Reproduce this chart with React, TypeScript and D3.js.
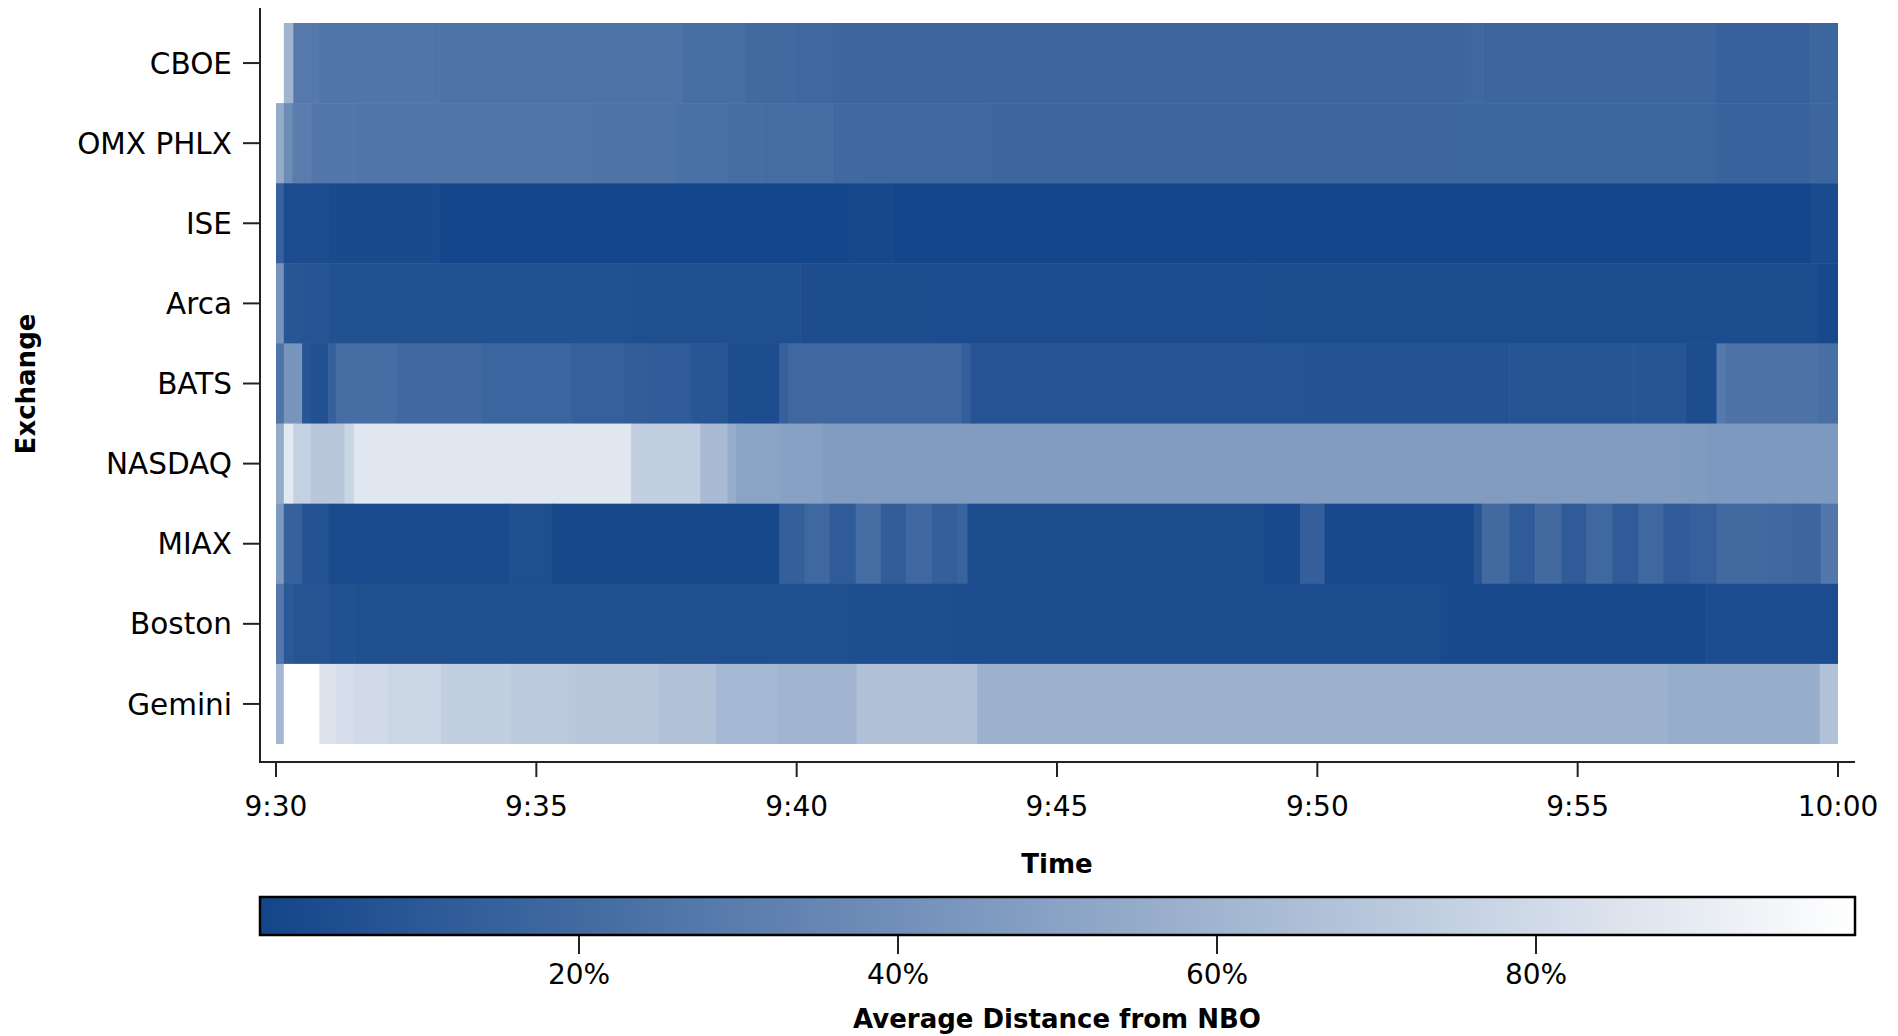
import React from "react";
import * as d3 from "d3";

// Exchanges, top to bottom
const EXCHANGES = ["CBOE", "OMX PHLX", "ISE", "Arca", "BATS", "NASDAQ", "MIAX", "Boston", "Gemini"];

// Each series: [seconds after 9:30:00, average distance from NBO (0..1)]; a segment runs to the next start (last to 10:00)
const CBOE: [number, number][] = [
  [9, 0.6], [20, 0.28], [50, 0.26], [188, 0.245], [469, 0.225], [541, 0.2], [597, 0.19], [643, 0.18],
  [1370, 0.19], [1390, 0.18], [1660, 0.15], [1768, 0.175],
];
const OMX_PHLX: [number, number][] = [
  [0, 0.55], [9, 0.38], [19, 0.3], [41, 0.27], [90, 0.26], [363, 0.245], [459, 0.235], [522, 0.22],
  [559, 0.21], [641, 0.195], [682, 0.185], [823, 0.18], [1362, 0.175], [1660, 0.16], [1769, 0.18],
];
const ISE: [number, number][] = [
  [0, 0.15], [9, 0.04], [60, 0.025], [188, 0.005], [659, 0.012], [709, 0.005], [1769, 0.03],
];
const ARCA: [number, number][] = [
  [0, 0.42], [9, 0.09], [30, 0.075], [60, 0.065], [410, 0.055], [604, 0.045], [760, 0.04], [1127, 0.035], [1778, 0.02],
];
const BATS: [number, number][] = [
  [0, 0.25], [9, 0.43], [30, 0.09], [40, 0.065], [60, 0.15], [69, 0.22], [139, 0.195], [238, 0.17],
  [340, 0.145], [402, 0.13], [428, 0.12], [479, 0.09], [520, 0.045], [580, 0.15], [590, 0.185],
  [790, 0.14], [800, 0.075], [1191, 0.07], [1421, 0.08], [1564, 0.085], [1624, 0.045], [1660, 0.28],
  [1670, 0.24], [1778, 0.23],
];
const NASDAQ: [number, number][] = [
  [0, 0.55], [9, 0.88], [20, 0.75], [40, 0.7], [79, 0.78], [90, 0.87], [340, 0.875], [409, 0.74],
  [489, 0.63], [520, 0.56], [530, 0.51], [580, 0.49], [630, 0.47], [1620, 0.46], [1648, 0.45],
];
const MIAX: [number, number][] = [
  [0, 0.45], [9, 0.15], [30, 0.07], [60, 0.03], [270, 0.055], [318, 0.015], [580, 0.14], [609, 0.19],
  [638, 0.12], [668, 0.21], [697, 0.13], [726, 0.19], [756, 0.14], [786, 0.16], [797, 0.035],
  [1138, 0.02], [1180, 0.14], [1208, 0.02], [1380, 0.09], [1390, 0.2], [1421, 0.12], [1451, 0.2],
  [1481, 0.12], [1510, 0.19], [1540, 0.12], [1570, 0.19], [1599, 0.12], [1629, 0.145], [1660, 0.2],
  [1721, 0.185], [1749, 0.18], [1780, 0.27],
];
const BOSTON: [number, number][] = [
  [0, 0.27], [9, 0.1], [20, 0.08], [60, 0.065], [90, 0.055], [570, 0.06], [659, 0.05], [780, 0.045],
  [1342, 0.025], [1648, 0.04],
];
const GEMINI: [number, number][] = [
  [0, 0.62], [9, 1.0], [50, 0.85], [69, 0.82], [90, 0.8], [129, 0.78], [190, 0.74], [270, 0.71],
  [344, 0.7], [441, 0.67], [507, 0.62], [579, 0.6], [669, 0.66], [808, 0.58], [1604, 0.56], [1779, 0.67],
];
const SERIES = [CBOE, OMX_PHLX, ISE, ARCA, BATS, NASDAQ, MIAX, BOSTON, GEMINI];

const LEGEND_TICKS = [0.2, 0.4, 0.6, 0.8];
const SESSION_SECONDS = 1800;

const BASE = new Date(2020, 0, 2, 9, 30, 0);
const END = new Date(2020, 0, 2, 10, 0, 0);
const toDate = (s: number) => new Date(BASE.getTime() + s * 1000);

const FONT = "DejaVu Sans";

export default function App() {
  const x = d3.scaleTime().domain([BASE, END]).range([276, 1838]);
  const y = d3.scaleBand<string>().domain(EXCHANGES).range([23, 744]).padding(0);
  const color = d3
    .scaleLinear<string>()
    .domain([0, 1])
    .range(["#13458a", "#ffffff"])
    .interpolate(d3.interpolateRgb);
  const lx = d3.scaleLinear().domain([0, 1]).range([260, 1855]);
  const xTicks = x.ticks(d3.timeMinute.every(5) as any);
  const fmt = d3.timeFormat("%-H:%M");
  const pct = d3.format(".0%");
  const stops = d3.range(0, 1.0001, 0.05);

  const cells: React.ReactNode[] = [];
  SERIES.forEach((segs, r) => {
    const y0 = y(EXCHANGES[r]) as number;
    segs.forEach(([s, v], i) => {
      const e = i + 1 < segs.length ? segs[i + 1][0] : SESSION_SECONDS;
      const x0 = x(toDate(s));
      const x1 = x(toDate(e));
      cells.push(
        <rect
          key={`${r}-${i}`}
          x={x0}
          y={y0}
          width={x1 - x0 + (i + 1 < segs.length ? 0.6 : 0)}
          height={y.bandwidth() + (r < EXCHANGES.length - 1 ? 0.5 : 0)}
          fill={color(v)}
        />
      );
    });
  });

  return (
    <svg
      width={1898}
      height={1036}
      style={{ position: "absolute", left: 0, top: 0, display: "block", background: "#fff" }}
      fontFamily={FONT}
    >
      <defs>
        <linearGradient id="cbar" x1="0" x2="1" y1="0" y2="0">
          {stops.map((t) => (
            <stop key={t} offset={t} stopColor={color(t)} />
          ))}
        </linearGradient>
      </defs>
      <rect x={0} y={0} width={1898} height={1036} fill="#fff" />
      <g>{cells}</g>

      {/* Y axis */}
      <line x1={260} x2={260} y1={8} y2={763} stroke="#222" strokeWidth={2} />
      {EXCHANGES.map((ex) => {
        const cy = (y(ex) as number) + y.bandwidth() / 2;
        return (
          <g key={ex}>
            <line x1={243} x2={260} y1={cy} y2={cy} stroke="#222" strokeWidth={2} />
            <text x={232} y={cy} dy="0.36em" textAnchor="end" fontSize={29.5} fill="#000">
              {ex}
            </text>
          </g>
        );
      })}
      <text
        transform="translate(35,384) rotate(-90)"
        textAnchor="middle"
        fontSize={26}
        fontWeight="bold"
        fill="#000"
      >
        Exchange
      </text>

      {/* X axis */}
      <line x1={259} x2={1855} y1={762} y2={762} stroke="#222" strokeWidth={2} />
      {xTicks.map((t) => (
        <g key={t.getTime()}>
          <line x1={x(t)} x2={x(t)} y1={762} y2={777} stroke="#222" strokeWidth={2} />
          <text x={x(t)} y={816} textAnchor="middle" fontSize={28} fill="#000">
            {fmt(t)}
          </text>
        </g>
      ))}
      <text x={1057} y={873} textAnchor="middle" fontSize={26} fontWeight="bold" fill="#000">
        Time
      </text>

      {/* Color legend */}
      <rect x={260} y={897} width={1595} height={38} fill="url(#cbar)" stroke="#000" strokeWidth={2.5} />
      {LEGEND_TICKS.map((t) => (
        <g key={t}>
          <line x1={lx(t)} x2={lx(t)} y1={936} y2={954} stroke="#222" strokeWidth={2} />
          <text x={lx(t)} y={984} textAnchor="middle" fontSize={28} fill="#000">
            {pct(t)}
          </text>
        </g>
      ))}
      <text x={1057} y={1028} textAnchor="middle" fontSize={26} fontWeight="bold" fill="#000">
        Average Distance from NBO
      </text>
    </svg>
  );
}
